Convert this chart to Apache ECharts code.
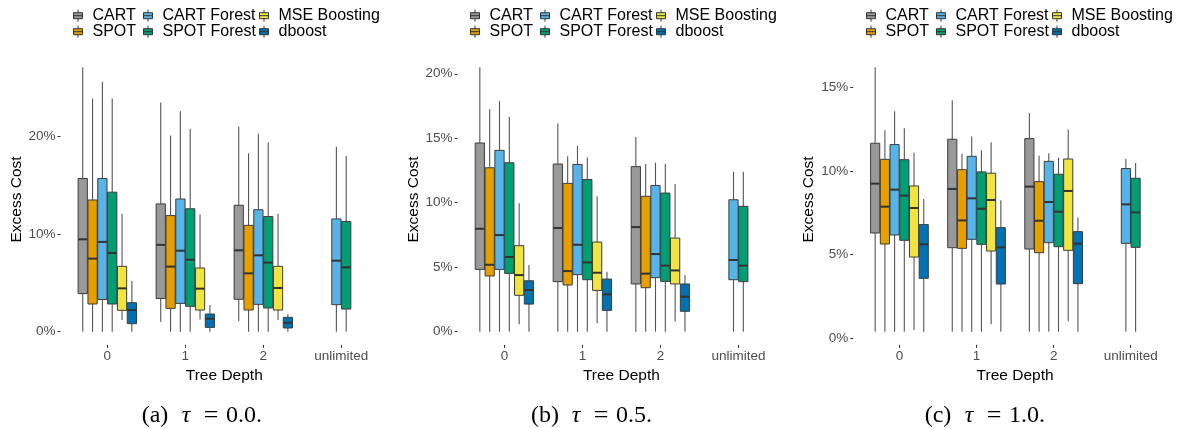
<!DOCTYPE html>
<html><head><meta charset="utf-8">
<script src="https://cdn.jsdelivr.net/npm/echarts@6/dist/echarts.min.js"></script>
<style>html,body{margin:0;padding:0;background:#fff}#c{width:1177px;height:428px}</style>
</head><body><div id="c"></div>
<script>
// ---------------- data ----------------
const methods = ['CART', 'SPOT', 'CART Forest', 'SPOT Forest', 'MSE Boosting', 'dboost'];
const depthLabels = ['0', '1', '2', 'unlimited'];
const yTicksA = [0, 10, 20];
const yTicksB = [0, 5, 10, 15, 20];
const yTicksC = [0, 5, 10, 15];
const captionLetters = ['(a)', '(b)', '(c)'];
const tauValues = ['0.0.', '0.5.', '1.0.'];

// each entry: [lower whisker, Q1, median, Q3, upper whisker] in %, per depth 0,1,2,unlimited (null = none)
const a_CART         = [[0, 3.9, 9.47, 15.7, 27.1], [1.0, 3.4, 8.9, 13.1, 23.5], [1.09, 3.32, 8.34, 12.96, 21.0], null];
const a_SPOT         = [[0, 2.84, 7.49, 13.5, 23.9], [0, 2.39, 6.67, 11.9, 20.1], [0, 2.22, 5.98, 10.9, 18.3], null];
const a_CARTForest   = [[0, 3.3, 9.2, 15.7, 25.6], [0, 2.9, 8.3, 13.6, 22.6], [0, 2.8, 7.83, 12.5, 20.3], [0, 2.77, 7.28, 11.56, 18.97]];
const a_SPOTForest   = [[0, 2.84, 8.07, 14.3, 23.9], [0, 2.6, 7.38, 12.6, 20.8], [0, 2.43, 7.08, 11.8, 19.4], [0, 2.32, 6.6, 11.3, 18.0]];
const a_MSEBoosting  = [[1.2, 2.19, 4.44, 6.7, 12.1], [1.26, 2.22, 4.41, 6.53, 12.0], [1.2, 2.22, 4.48, 6.7, 12.1], null];
const a_dboost       = [[0, 0.82, 2.22, 2.97, 5.2], [0, 0.44, 1.33, 1.81, 2.74], [0, 0.38, 0.92, 1.47, 1.81], null];

const b_CART         = [[0, 4.83, 7.98, 14.63, 20.5], [0, 3.88, 8.04, 13.0, 16.15], [0, 3.7, 8.11, 12.8, 15.1], null];
const b_SPOT         = [[0, 4.32, 5.19, 12.71, 17.26], [0, 3.62, 4.7, 11.5, 13.6], [0, 3.41, 4.5, 10.5, 13.0], null];
const b_CARTForest   = [[0, 4.83, 7.49, 14.06, 17.9], [0, 4.42, 6.74, 12.97, 14.4], [0, 4.19, 6.02, 11.34, 13.1], [0, 4.03, 5.56, 10.23, 12.4]];
const b_SPOTForest   = [[0, 4.52, 5.79, 13.1, 16.67], [0, 4.03, 5.37, 11.8, 13.5], [0, 3.9, 5.12, 10.75, 13.0], [0, 3.88, 5.12, 9.72, 12.4]];
const b_MSEBoosting  = [[0.57, 2.82, 4.39, 6.67, 9.95], [0.65, 3.2, 4.57, 6.95, 10.5], [0.78, 3.7, 4.75, 7.26, 11.45], null];
const b_dboost       = [[0, 2.14, 3.23, 3.95, 5.17], [0, 1.65, 2.89, 4.08, 4.65], [0, 1.58, 2.71, 3.7, 4.39], null];

const c_CART         = [[0.4, 6.3, 9.25, 11.66, 16.2], [0.4, 5.42, 8.93, 11.9, 14.23], [0.4, 5.34, 9.07, 11.94, 13.47], null];
const c_SPOT         = [[0.4, 5.64, 7.87, 10.7, 12.44], [0.4, 5.38, 7.05, 10.08, 11.04], [0.4, 5.12, 7.03, 9.37, 10.92], null];
const c_CARTForest   = [[0.4, 6.18, 8.89, 11.58, 13.58], [0.4, 5.92, 8.37, 10.88, 12.06], [0.4, 5.72, 8.15, 10.58, 11.06], [0.4, 5.68, 8.01, 10.15, 10.74]];
const c_SPOTForest   = [[0.4, 5.86, 8.53, 10.68, 12.56], [0.4, 5.62, 7.75, 9.95, 11.24], [0.4, 5.48, 7.57, 9.81, 10.8], [0.4, 5.44, 7.53, 9.57, 10.48]];
const c_MSEBoosting  = [[0.5, 4.86, 7.79, 9.11, 11.1], [0.84, 5.22, 8.27, 9.87, 11.72], [1.02, 5.26, 8.81, 10.72, 12.48], null];
const c_dboost       = [[0.4, 3.59, 5.62, 6.8, 8.33], [0.4, 3.25, 5.44, 6.62, 8.25], [0.4, 3.27, 5.66, 6.38, 7.23], null];

// ---------------- layout / style ----------------
const colors = ['#999999', '#E69F00', '#56B4E9', '#009E73', '#F0E442', '#0072B2'];
const FONT = '"Liberation Sans", Arial, Helvetica, sans-serif';
const SERIF = '"Liberation Serif", "DejaVu Serif", serif';
const panels = [
  { data: [a_CART, a_SPOT, a_CARTForest, a_SPOTForest, a_MSEBoosting, a_dboost], ticks: yTicksA, left: 60.5, legendLeft: 73, capX: 199 },
  { data: [b_CART, b_SPOT, b_CARTForest, b_SPOTForest, b_MSEBoosting, b_dboost], ticks: yTicksB, left: 457.6, legendLeft: 470, capX: 589 },
  { data: [c_CART, c_SPOT, c_CARTForest, c_SPOTForest, c_MSEBoosting, c_dboost], ticks: yTicksC, left: 853.2, legendLeft: 866, capX: 982 }
];
const UNIT = 78, GRID_TOP = 54.1, GRID_H = 290.8;
const legendColOffsets = [0, 70, 186];
const boxIcon = 'path://M4.5,0 L4.5,3 M0,3 L9,3 L9,9 L0,9 Z M0,6 L9,6 M4.5,9 L4.5,12';

function makeRender(m) {
  return function (params, api) {
    const d = api.value(0);
    const unlimited = d === 3;
    const n = unlimited ? 2 : 6;
    const k = unlimited ? (m === 2 ? 0 : 1) : m;
    const unit = api.size([1, 0])[0];
    const step = unit * 0.126;
    const bw = step * 0.94;
    const xc = api.coord([d, 0])[0] + (k - (n - 1) / 2) * step;
    const y = i => api.coord([d, api.value(i)])[1];
    const yLo = y(1), yQ1 = y(2), yMed = y(3), yQ3 = y(4), yHi = y(5);
    const wh = { stroke: '#555555', lineWidth: 1.1 };
    return {
      type: 'group',
      children: [
        { type: 'line', shape: { x1: xc, y1: yHi, x2: xc, y2: yQ3 }, style: wh },
        { type: 'line', shape: { x1: xc, y1: yQ1, x2: xc, y2: yLo }, style: wh },
        { type: 'rect', shape: { x: xc - bw / 2, y: yQ3, width: bw, height: yQ1 - yQ3 },
          style: { fill: colors[m], stroke: '#3d3d3d', lineWidth: 1 } },
        { type: 'line', shape: { x1: xc - bw / 2, y1: yMed, x2: xc + bw / 2, y2: yMed },
          style: { stroke: '#333333', lineWidth: 2 } }
      ]
    };
  };
}

const grid = [], xAxis = [], yAxis = [], series = [], legend = [], graphic = [];
panels.forEach((p, pi) => {
  grid.push({ left: p.left, top: GRID_TOP, width: UNIT * 4.2, height: GRID_H, containLabel: false });
  let lo = Infinity, hi = -Infinity;
  p.data.forEach(arr => arr.forEach(s => { if (s) { lo = Math.min(lo, s[0]); hi = Math.max(hi, s[4]); } }));
  const pad = 0.05 * (hi - lo);
  xAxis.push({
    gridIndex: pi, type: 'value', min: -0.6, max: 3.6, position: 'bottom',
    axisLine: { show: false, onZero: false }, splitLine: { show: false },
    axisTick: { show: true, length: 3, customValues: [0, 1, 2, 3], lineStyle: { color: '#333', width: 1 } },
    axisLabel: { customValues: [0, 1, 2, 3], formatter: v => depthLabels[Math.round(v)], color: '#4d4d4d', fontSize: 13.5, fontFamily: FONT, margin: 4 },
    name: 'Tree Depth', nameLocation: 'middle', nameGap: 17,
    nameTextStyle: { color: '#000', fontSize: 15.5, fontFamily: FONT, verticalAlign: 'top' }
  });
  yAxis.push({
    gridIndex: pi, type: 'value', min: lo - pad, max: hi + pad, position: 'left',
    axisLine: { show: false, onZero: false }, splitLine: { show: false },
    axisTick: { show: true, length: 3, customValues: p.ticks, lineStyle: { color: '#333', width: 1 } },
    axisLabel: { customValues: p.ticks, formatter: v => v + '%', color: '#4d4d4d', fontSize: 13.5, fontFamily: FONT, margin: 5 },
    name: 'Excess Cost', nameLocation: 'middle', nameGap: 36,
    nameTextStyle: { color: '#000', fontSize: 15.5, fontFamily: FONT }
  });
  methods.forEach((name, m) => {
    const items = [];
    p.data[m].forEach((s, d) => { if (s) items.push([d, s[0], s[1], s[2], s[3], s[4]]); });
    series.push({
      type: 'custom', name: name, xAxisIndex: pi, yAxisIndex: pi,
      itemStyle: { color: colors[m], borderColor: '#333', borderWidth: 1 },
      encode: { x: 0, y: [1, 2, 3, 4, 5] },
      renderItem: makeRender(m), data: items, clip: false, silent: true
    });
  });
  [0, 1, 2].forEach(j => {
    legend.push({
      orient: 'vertical', left: p.legendLeft + legendColOffsets[j], top: 7.7, padding: 0,
      itemWidth: 9, itemHeight: 12, itemGap: 0, icon: boxIcon, selectedMode: false,
      itemStyle: { borderColor: '#333', borderWidth: 1 },
      textStyle: { fontSize: 16, lineHeight: 16, color: '#000', fontFamily: FONT, padding: [0, 0, 0, 5] },
      data: [methods[2 * j], methods[2 * j + 1]]
    });
  });
  // caption pieces: "(x)", italic tau, "=", value
  const capY = 416;
  const pieces = [
    { t: captionLetters[pi], dx: -44, style: {} },
    { t: 'τ', dx: -13, style: { fontStyle: 'italic' } },
    { t: '=', dx: 12, style: { fontSize: 26 } },
    { t: tauValues[pi], dx: 45, style: {} }
  ];
  pieces.forEach(pc => {
    graphic.push({
      type: 'text', x: p.capX + pc.dx, y: capY, silent: true,
      style: Object.assign({
        text: pc.t, fill: '#000', fontSize: 24, fontFamily: SERIF,
        align: 'center', verticalAlign: 'middle'
      }, pc.style)
    });
  });
});

const chart = echarts.init(document.getElementById('c'), null, { renderer: 'canvas' });
chart.setOption({ animation: false, backgroundColor: '#fff', grid, xAxis, yAxis, series, legend, graphic });
</script>
</body></html>
